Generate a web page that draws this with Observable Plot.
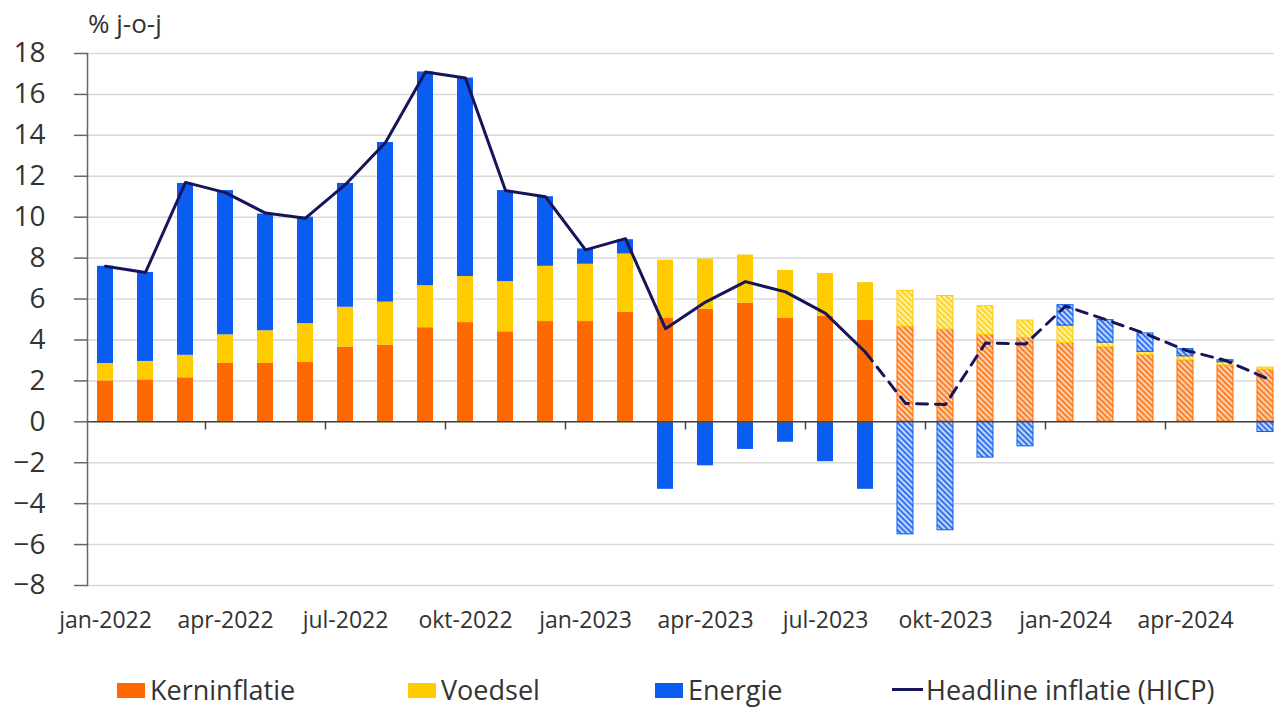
<!DOCTYPE html>
<html><head><meta charset="utf-8">
<script src="https://cdn.jsdelivr.net/npm/d3@7"></script>
<script src="https://cdn.jsdelivr.net/npm/@observablehq/plot@0.6"></script>
<style>
body{margin:0;background:#fff;font-family:"Open Sans",sans-serif;color:#333}
#wrap{position:relative;width:1274px;height:708px;overflow:hidden}
#title{position:absolute;left:88px;top:10px;font-size:26px;line-height:1;white-space:nowrap;z-index:1}
#chart{position:absolute;left:0;top:30px}
.lg{position:absolute;font-size:27px;line-height:1;top:676px;white-space:nowrap}
.sw{position:absolute;top:683px;width:28px;height:15px}
.ln{position:absolute;top:688px;width:31px;height:3px}
</style></head><body>
<div id="wrap">
  <div id="chart"></div>
  <div id="title">% j-o-j</div>
  <div id="legend"></div>
</div>
<script>
const months = ["2022-01","2022-02","2022-03","2022-04","2022-05","2022-06","2022-07","2022-08","2022-09","2022-10","2022-11","2022-12",
  "2023-01","2023-02","2023-03","2023-04","2023-05","2023-06","2023-07","2023-08","2023-09","2023-10","2023-11","2023-12",
  "2024-01","2024-02","2024-03","2024-04","2024-05","2024-06"];
const firstForecast = "2023-09";
const kerninflatie = [2.0,2.05,2.15,2.85,2.85,2.9,3.65,3.75,4.6,4.85,4.4,4.9,4.9,5.35,5.05,5.5,5.8,5.05,5.15,4.95,4.65,4.5,4.25,4.1,3.85,3.65,3.25,3.0,2.75,2.55];
const voedsel = [0.85,0.9,1.1,1.4,1.6,1.9,1.95,2.1,2.05,2.25,2.45,2.7,2.8,2.85,2.85,2.45,2.35,2.35,2.1,1.85,1.75,1.65,1.4,0.85,0.85,0.22,0.17,0.2,0.16,0.1];
const energie = [4.75,4.35,8.4,7.05,5.7,5.2,6.05,7.8,10.45,9.7,4.45,3.4,0.75,0.7,-3.3,-2.15,-1.35,-1.0,-1.95,-3.3,-5.5,-5.3,-1.75,-1.2,1.0,1.1,0.9,0.35,0.1,-0.5];
const headline = [7.6,7.3,11.7,11.2,10.2,9.95,11.6,13.65,17.1,16.8,11.3,11.0,8.4,8.95,4.55,5.85,6.85,6.35,5.3,3.4,0.9,0.85,3.85,3.8,5.65,5.0,4.3,3.5,3.0,2.15];
const tickMonths = ["2022-01","2022-04","2022-07","2022-10","2023-01","2023-04","2023-07","2023-10","2024-01","2024-04"];
const tickLabels = ["jan-2022","apr-2022","jul-2022","okt-2022","jan-2023","apr-2023","jul-2023","okt-2023","jan-2024","apr-2024"];
const yTicks = [-8,-6,-4,-2,0,2,4,6,8,10,12,14,16,18];
const seriesNames = ["Kerninflatie","Voedsel","Energie"];
const seriesKeys = ["orange","yellow","blue"];
const colors = {orange:"#ff6a00", yellow:"#ffcc00", blue:"#0b5cf0"};
const hatchBg = {orange:"#fcd2b0", yellow:"#fff1a8", blue:"#c3d6fb"};
const navy = "#16145a";

const fcIndex = months.indexOf(firstForecast);
const seriesValues = [kerninflatie, voedsel, energie];
const rows = [];
seriesKeys.forEach((k, s) => months.forEach((m, i) => rows.push({month: m, key: k, value: seriesValues[s][i], forecast: i >= fcIndex})));
const lineRows = months.map((m, i) => ({month: m, value: headline[i], i}));
const labelOf = Object.fromEntries(tickMonths.map((m, i) => [m, tickLabels[i]]));

const chart = Plot.plot({
  width: 1274, height: 610,
  marginTop: 23, marginBottom: 55, marginLeft: 87, marginRight: 0,
  style: {fontFamily: '"Open Sans", sans-serif', color: "#333", background: "transparent"},
  x: {type: "band", domain: months, range: [85, 1285], paddingInner: 0.6, paddingOuter: 0.3, axis: null, label: null},
  y: {domain: [-8, 18], axis: null, label: null},
  marks: [
    Plot.gridY(yTicks, {stroke: "#d9d9d9", strokeOpacity: 1, strokeWidth: 1.5}),
    Plot.barY(rows, {x: "month", y: "value", z: "key",
      fill: d => d.forecast ? `url(#hatch-${d.key})` : colors[d.key],
      stroke: d => d.forecast ? colors[d.key] : "none",
      strokeWidth: 1}),
    Plot.ruleY([0], {stroke: "#444", strokeWidth: 1.5}),
    Plot.ruleX(tickMonths.slice(1), {x: d => d, y1: 0, y2: -0.4, dx: -20, stroke: "#444", strokeWidth: 1.5}),
    Plot.line(lineRows.filter(d => d.i <= fcIndex - 1), {x: "month", y: "value", stroke: navy, strokeWidth: 3}),
    Plot.line(lineRows.filter(d => d.i >= fcIndex - 1), {x: "month", y: "value", stroke: navy, strokeWidth: 3, strokeDasharray: "11,8"}),
    Plot.frame({anchor: "left", stroke: "#666", strokeWidth: 1.5}),
    Plot.axisY(yTicks, {tickSize: 13, tickPadding: 29, fontSize: 28, stroke: "#666", strokeWidth: 1.5, label: null}),
    Plot.axisX(tickMonths, {anchor: "bottom", tickSize: 0, tickPadding: 26, fontSize: 23, tickFormat: d => labelOf[d], label: null})
  ]
});

const svg = d3.select(chart);
const defs = svg.insert("defs", ":first-child");
seriesKeys.forEach(k => {
  const p = defs.append("pattern").attr("id", `hatch-${k}`).attr("patternUnits", "userSpaceOnUse")
    .attr("width", 4).attr("height", 4).attr("patternTransform", "rotate(-45)");
  p.append("rect").attr("width", 4).attr("height", 4).attr("fill", hatchBg[k]);
  p.append("line").attr("x1", 1).attr("y1", 0).attr("x2", 1).attr("y2", 4).attr("stroke", colors[k]).attr("stroke-width", 1.6);
});
document.getElementById("chart").appendChild(chart);

const legend = document.getElementById("legend");
const items = [
  {sw: 117, tx: 150, name: seriesNames[0], color: colors.orange},
  {sw: 408, tx: 441, name: seriesNames[1], color: colors.yellow},
  {sw: 655, tx: 688, name: seriesNames[2], color: colors.blue}
];
items.forEach(it => {
  const s = document.createElement("div"); s.className = "sw"; s.style.left = it.sw + "px"; s.style.background = it.color; legend.appendChild(s);
  const t = document.createElement("div"); t.className = "lg"; t.style.left = it.tx + "px"; t.textContent = it.name; legend.appendChild(t);
});
const l = document.createElement("div"); l.className = "ln"; l.style.left = "892px"; l.style.background = navy; legend.appendChild(l);
const lt = document.createElement("div"); lt.className = "lg"; lt.style.left = "926px"; lt.textContent = "Headline inflatie (HICP)"; legend.appendChild(lt);
</script>
</body></html>
